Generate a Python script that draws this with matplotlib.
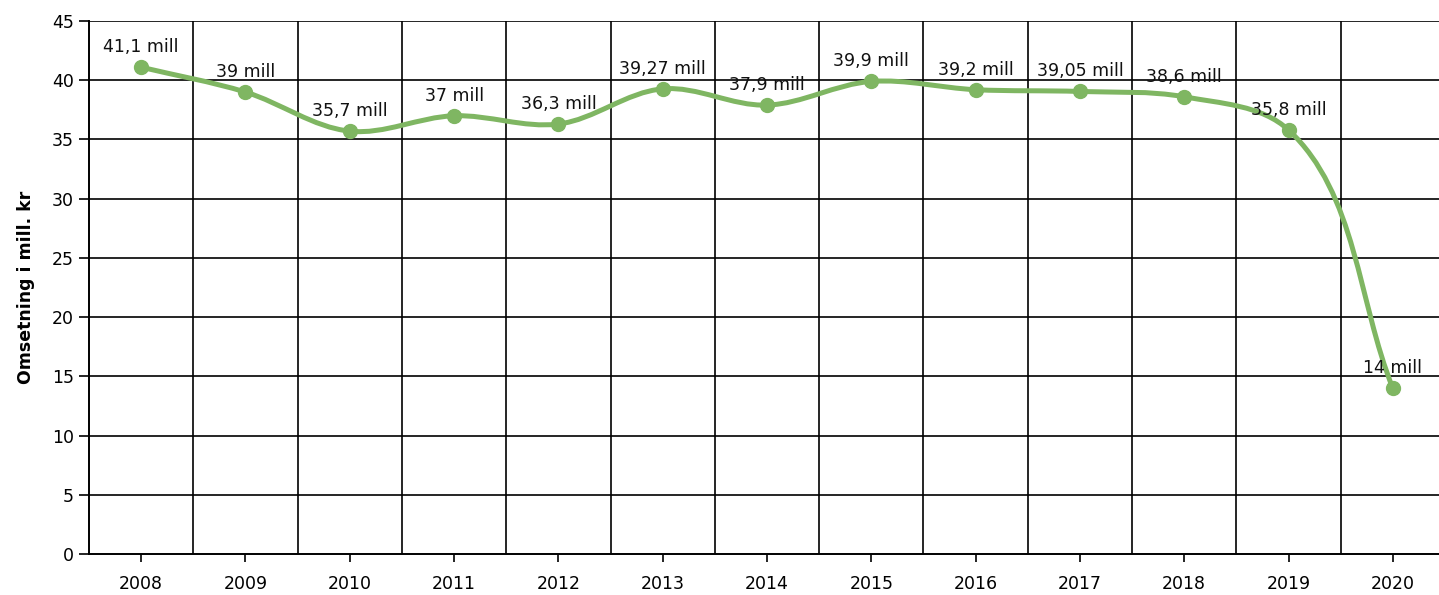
import numpy as np
import matplotlib
matplotlib.use("Agg")
import matplotlib.pyplot as plt
from matplotlib.path import Path
from matplotlib.patches import PathPatch

years = ["2008", "2009", "2010", "2011", "2012", "2013", "2014",
         "2015", "2016", "2017", "2018", "2019", "2020"]
revenue = [41.1, 39.0, 35.7, 37.0, 36.3, 39.27, 37.9,
           39.9, 39.2, 39.05, 38.6, 35.8, 14.0]
labels = ["41,1 mill", "39 mill", "35,7 mill", "37 mill", "36,3 mill",
          "39,27 mill", "37,9 mill", "39,9 mill", "39,2 mill",
          "39,05 mill", "38,6 mill", "35,8 mill", "14 mill"]
y_ticks = [0, 5, 10, 15, 20, 25, 30, 35, 40, 45]

GREEN = "#7fb662"
FS = 12.5


def smooth_path(ax, x, y):
    """Smoothed line built on screen: tangent = bisector of the unit
    vectors of the neighbouring segments, handles = chord / 3."""
    pts = np.column_stack([x, y]).astype(float)
    scr = ax.transData.transform(pts)
    n = len(scr)

    def unit(v):
        return v / np.linalg.norm(v)

    tangents = []
    for i in range(n):
        if i == 0:
            t = unit(scr[1] - scr[0])
        elif i == n - 1:
            t = unit(scr[-1] - scr[-2])
        else:
            t = unit(unit(scr[i] - scr[i - 1]) + unit(scr[i + 1] - scr[i]))
        tangents.append(t)

    verts = [scr[0]]
    codes = [Path.MOVETO]
    for i in range(n - 1):
        d = np.linalg.norm(scr[i + 1] - scr[i]) / 3.0
        verts += [scr[i] + tangents[i] * d,
                  scr[i + 1] - tangents[i + 1] * d,
                  scr[i + 1]]
        codes += [Path.CURVE4] * 3
    data_verts = ax.transData.inverted().transform(np.array(verts))
    return Path(data_verts, codes)


plt.rcParams["font.family"] = "DejaVu Sans"

fig = plt.figure(figsize=(14.39, 5.95), dpi=100)
ax = fig.add_axes([89 / 1439, 1 - 554 / 595, 1356 / 1439, 533 / 595])

x = np.arange(len(years))
ax.set_xlim(-0.5, len(years) - 0.5)
ax.set_ylim(0, 45)

ax.add_patch(PathPatch(smooth_path(ax, x, revenue), facecolor="none",
                       edgecolor=GREEN, linewidth=3.6, capstyle="round",
                       joinstyle="round", zorder=3))
ax.plot(x, revenue, linestyle="none", marker="o", markersize=10,
        color=GREEN, zorder=4)

for xi, yi, lab in zip(x, revenue, labels):
    ax.annotate(lab, (xi, yi), xytext=(0, 8), textcoords="offset points",
                ha="center", va="bottom", fontsize=FS, color="#111111",
                zorder=5)

ax.set_yticks(y_ticks)
ax.set_xticks(x)
ax.set_xticklabels(years)

# vertical grid lines between categories
for b in np.arange(0.5, len(years) - 0.5, 1.0):
    ax.axvline(b, color="black", linewidth=1.2, zorder=1)
for t in y_ticks[1:]:
    ax.axhline(t, color="black", linewidth=1.2, zorder=1)

for side in ["top", "right"]:
    ax.spines[side].set_visible(False)
ax.spines["left"].set_linewidth(1.4)
ax.spines["bottom"].set_linewidth(1.4)

ax.tick_params(axis="y", direction="out", length=7, width=1.2,
               labelsize=FS, pad=4)
ax.tick_params(axis="x", direction="out", length=6, width=1.2,
               labelsize=FS, pad=9)

ax.set_ylabel("Omsetning i mill. kr", fontsize=FS, fontweight="bold",
              labelpad=12)

fig.savefig("out.png", dpi=100)
